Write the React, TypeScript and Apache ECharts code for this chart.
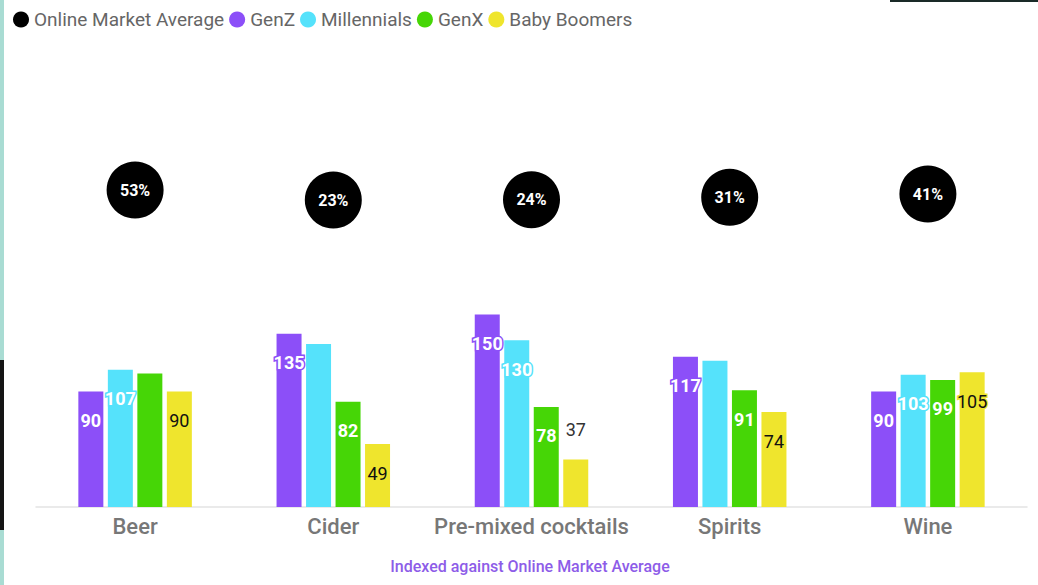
import React, { useEffect, useRef } from "react";
import * as echarts from "echarts";

const categories = ["Beer", "Cider", "Pre-mixed cocktails", "Spirits", "Wine"];
const onlineAvg = [53, 23, 24, 31, 41];
const genZ = [90, 135, 150, 117, 90];
const millennials = [107, 127, 130, 114, 103];
const genX = [104, 82, 78, 91, 99];
const boomers = [90, 49, 37, 74, 105];
// indices of data labels not shown in the reference
const hiddenMillennials = [1, 3];
const hiddenGenX = [0];
const outsideBoomers = [2];

const PURPLE = "#8c4ff8";
const CYAN = "#55e2fb";
const GREEN = "#46d606";
const YELLOW = "#efe52d";
const FONT = "Roboto";

function barData(values: number[], hidden: number[], outside: number[]) {
  return values.map((v, i) => {
    if (hidden.includes(i)) return { value: v, label: { show: false } };
    if (outside.includes(i))
      return {
        value: v,
        label: { show: true, position: "top", distance: 21, color: "#333", textBorderWidth: 0, fontWeight: "normal" },
      };
    return { value: v };
  });
}

function barSeries(name: string, values: number[], color: string, textColor: string, hidden: number[] = [], outside: number[] = []) {
  return {
    name,
    type: "bar",
    barWidth: 25,
    barGap: "18%",
    itemStyle: { color },
    label: {
      show: true,
      position: "insideTop",
      distance: 20,
      color: textColor,
      fontFamily: FONT,
      fontSize: 18,
      fontWeight: textColor === "#fff" ? "bold" : "normal",
      textBorderColor: color,
      textBorderWidth: 3,
    },
    data: barData(values, hidden, outside),
  };
}

export default function App() {
  const ref = useRef<HTMLDivElement>(null);
  useEffect(() => {
    if (!ref.current) return;
    const chart = echarts.init(ref.current, undefined, { renderer: "svg" });
    chart.setOption({
      animation: false,
      backgroundColor: "#fff",
      textStyle: { fontFamily: FONT },
      legend: {
        left: 8,
        top: 5,
        icon: "circle",
        itemWidth: 16,
        itemHeight: 16,
        itemGap: 5,
        textStyle: { fontSize: 19, color: "#666", fontFamily: FONT },
        data: ["Online Market Average", "GenZ", "Millennials", "GenX", "Baby Boomers"],
      },
      grid: { left: 36, right: 11, top: 45, bottom: 78 },
      xAxis: {
        type: "category",
        data: categories,
        axisTick: { show: false },
        axisLine: { lineStyle: { color: "#e3e3e3", width: 1.5 } },
        axisLabel: { interval: 0, fontSize: 22, color: "#777", fontFamily: FONT, fontWeight: 500, margin: 8 },
      },
      yAxis: [
        { type: "value", min: 0, max: 360, show: false, splitLine: { show: false } },
        { type: "value", min: -898, max: 488, show: false, splitLine: { show: false } },
      ],
      graphic: [
        {
          type: "text",
          x: 530,
          y: 566,
          style: {
            text: "Indexed against Online Market Average",
            fill: "#8d5ce8",
            fontSize: 16,
            fontWeight: 500,
            fontFamily: FONT,
            align: "center",
            verticalAlign: "middle",
          },
        },
        { type: "rect", shape: { x: 0, y: 0, width: 4, height: 585 }, style: { fill: "#a9dcd3" } },
        { type: "rect", shape: { x: 0, y: 360, width: 4, height: 170 }, style: { fill: "#151515" } },
        { type: "rect", shape: { x: 890, y: 0, width: 148, height: 2 }, style: { fill: "#1a2a28" } },
      ],
      series: [
        {
          name: "Online Market Average",
          type: "scatter",
          yAxisIndex: 1,
          symbol: "circle",
          symbolSize: 57,
          itemStyle: { color: "#000", opacity: 1 },
          emphasis: { disabled: true },
          label: {
            show: true,
            position: "inside",
            formatter: "{c}%",
            color: "#fff",
            fontSize: 16,
            fontWeight: "bold",
            fontFamily: FONT,
          },
          z: 3,
          data: onlineAvg,
        },
        barSeries("GenZ", genZ, PURPLE, "#fff"),
        barSeries("Millennials", millennials, CYAN, "#fff", hiddenMillennials),
        barSeries("GenX", genX, GREEN, "#fff", hiddenGenX),
        barSeries("Baby Boomers", boomers, YELLOW, "#111", [], outsideBoomers),
      ],
    });
    return () => chart.dispose();
  }, []);
  return <div ref={ref} style={{ position: "absolute", left: 0, top: 0, width: 1038, height: 585 }} />;
}
